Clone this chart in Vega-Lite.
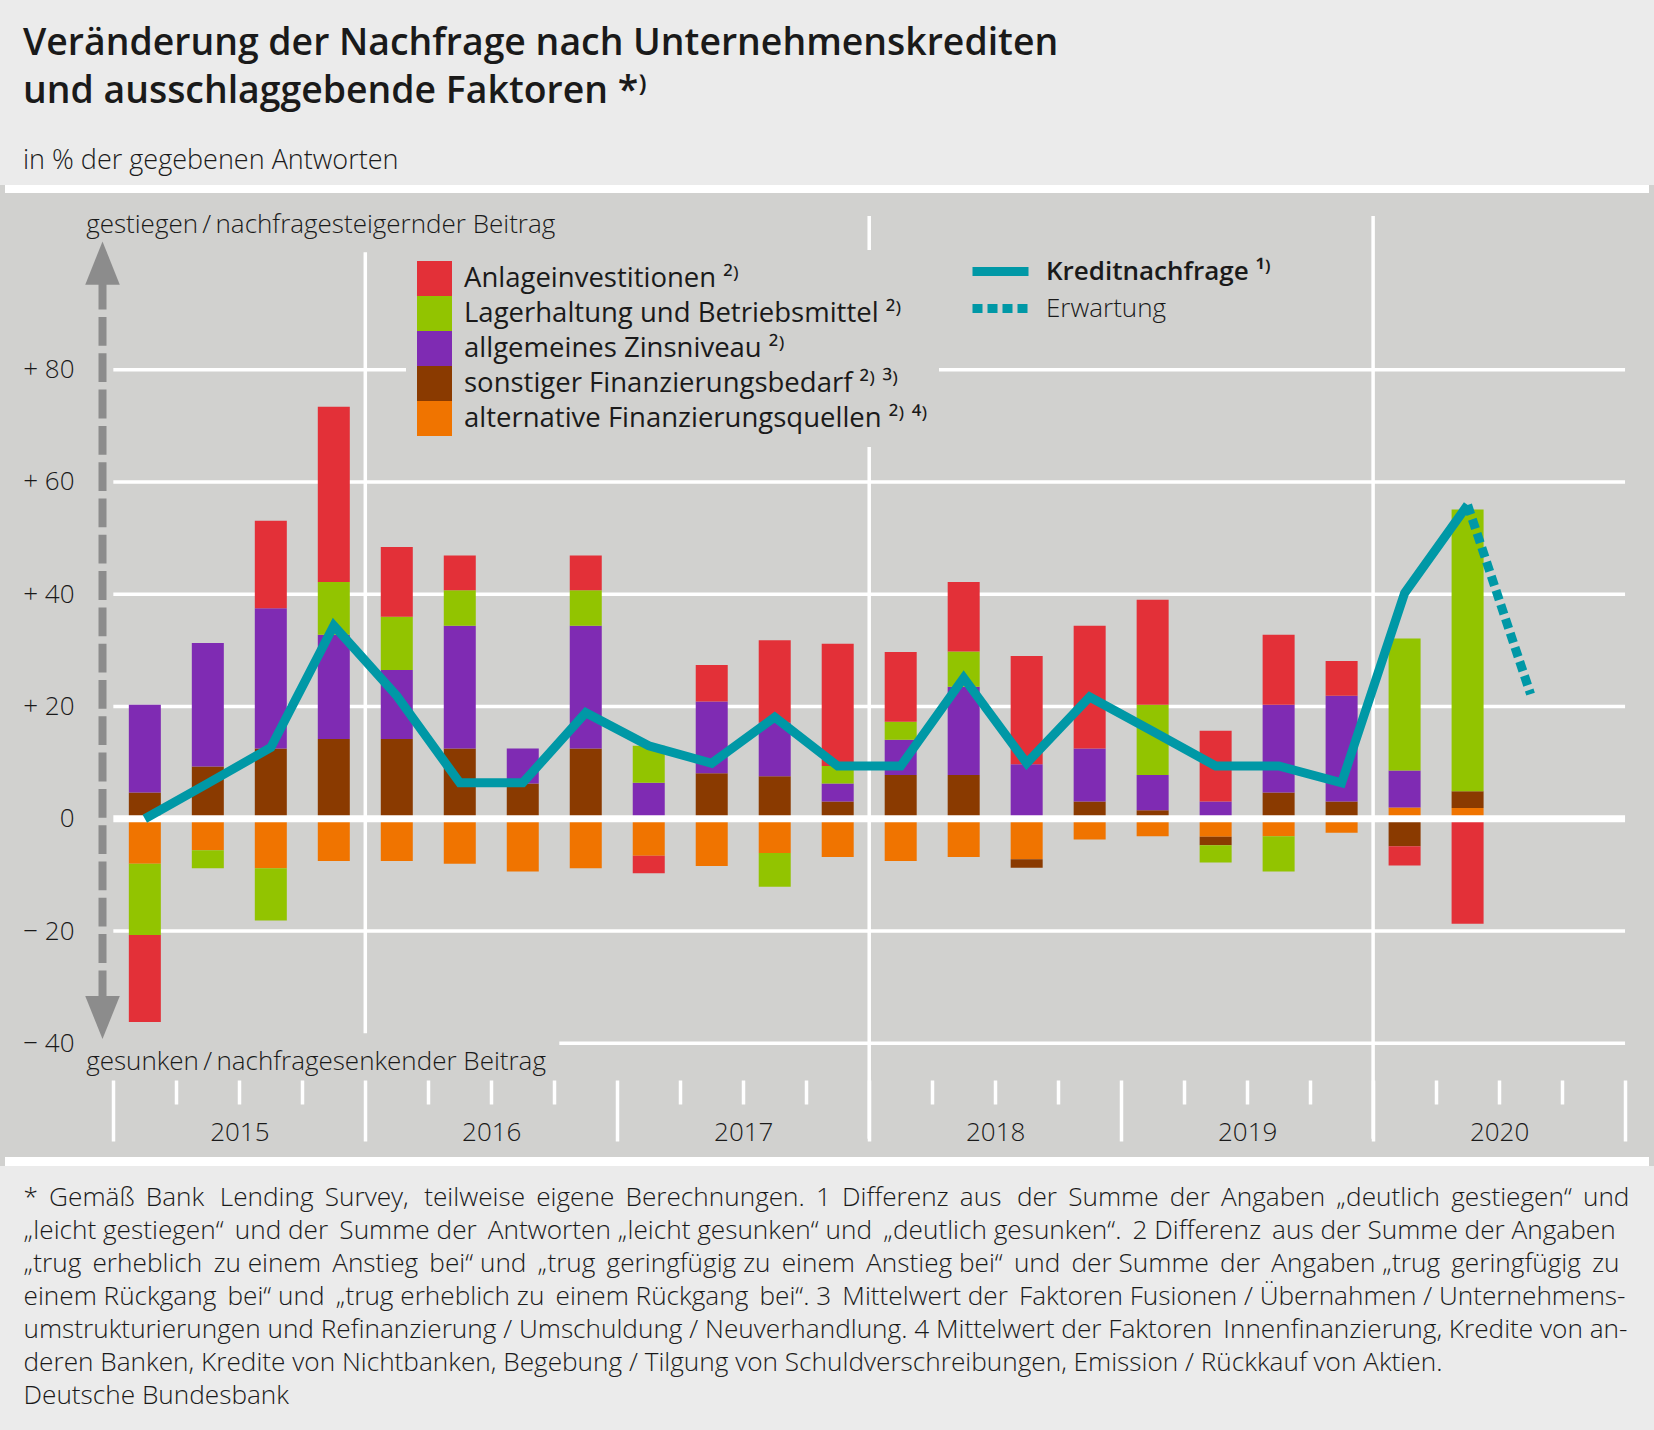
{
  "$schema": "https://vega.github.io/schema/vega-lite/v6.json",
  "width": 1654,
  "height": 981,
  "autosize": {"type": "none"},
  "padding": {"top": 185, "bottom": 264, "left": 0, "right": 0},
  "background": "#ebebeb",
  "config": {
    "view": {"fill": "#d1d1cf", "stroke": null},
    "font": "Open Sans"
  },
  "title": {
    "text": ["Veränderung der Nachfrage nach Unternehmenskrediten", "und ausschlaggebende Faktoren *⁾"],
    "subtitle": "in % der gegebenen Antworten",
    "anchor": "start",
    "frame": "group",
    "orient": "top",
    "dx": 23,
    "offset": 11,
    "font": "Open Sans",
    "fontSize": 37.4,
    "fontWeight": 600,
    "color": "#1a1a1a",
    "lineHeight": 47.6,
    "subtitleFont": "Open Sans",
    "subtitleFontSize": 27,
    "subtitleFontWeight": 300,
    "subtitleColor": "#1a1a1a",
    "subtitlePadding": 38
  },
  "datasets": {
    "factors": [
      {"quarter": "2015 Q1", "period": 2015.125, "factor": "alternative Finanzierungsquellen", "value": -8.0},
      {"quarter": "2015 Q1", "period": 2015.125, "factor": "sonstiger Finanzierungsbedarf", "value": 4.7},
      {"quarter": "2015 Q1", "period": 2015.125, "factor": "allgemeines Zinsniveau", "value": 15.6},
      {"quarter": "2015 Q1", "period": 2015.125, "factor": "Lagerhaltung und Betriebsmittel", "value": -12.7},
      {"quarter": "2015 Q1", "period": 2015.125, "factor": "Anlageinvestitionen", "value": -15.5},
      {"quarter": "2015 Q2", "period": 2015.375, "factor": "alternative Finanzierungsquellen", "value": -5.6},
      {"quarter": "2015 Q2", "period": 2015.375, "factor": "sonstiger Finanzierungsbedarf", "value": 9.3},
      {"quarter": "2015 Q2", "period": 2015.375, "factor": "allgemeines Zinsniveau", "value": 22.0},
      {"quarter": "2015 Q2", "period": 2015.375, "factor": "Lagerhaltung und Betriebsmittel", "value": -3.2},
      {"quarter": "2015 Q3", "period": 2015.625, "factor": "alternative Finanzierungsquellen", "value": -8.8},
      {"quarter": "2015 Q3", "period": 2015.625, "factor": "sonstiger Finanzierungsbedarf", "value": 12.5},
      {"quarter": "2015 Q3", "period": 2015.625, "factor": "allgemeines Zinsniveau", "value": 25.0},
      {"quarter": "2015 Q3", "period": 2015.625, "factor": "Lagerhaltung und Betriebsmittel", "value": -9.3},
      {"quarter": "2015 Q3", "period": 2015.625, "factor": "Anlageinvestitionen", "value": 15.6},
      {"quarter": "2015 Q4", "period": 2015.875, "factor": "alternative Finanzierungsquellen", "value": -7.5},
      {"quarter": "2015 Q4", "period": 2015.875, "factor": "sonstiger Finanzierungsbedarf", "value": 14.2},
      {"quarter": "2015 Q4", "period": 2015.875, "factor": "allgemeines Zinsniveau", "value": 18.6},
      {"quarter": "2015 Q4", "period": 2015.875, "factor": "Lagerhaltung und Betriebsmittel", "value": 9.4},
      {"quarter": "2015 Q4", "period": 2015.875, "factor": "Anlageinvestitionen", "value": 31.2},
      {"quarter": "2016 Q1", "period": 2016.125, "factor": "alternative Finanzierungsquellen", "value": -7.5},
      {"quarter": "2016 Q1", "period": 2016.125, "factor": "sonstiger Finanzierungsbedarf", "value": 14.2},
      {"quarter": "2016 Q1", "period": 2016.125, "factor": "allgemeines Zinsniveau", "value": 12.3},
      {"quarter": "2016 Q1", "period": 2016.125, "factor": "Lagerhaltung und Betriebsmittel", "value": 9.5},
      {"quarter": "2016 Q1", "period": 2016.125, "factor": "Anlageinvestitionen", "value": 12.4},
      {"quarter": "2016 Q2", "period": 2016.375, "factor": "alternative Finanzierungsquellen", "value": -8.0},
      {"quarter": "2016 Q2", "period": 2016.375, "factor": "sonstiger Finanzierungsbedarf", "value": 12.5},
      {"quarter": "2016 Q2", "period": 2016.375, "factor": "allgemeines Zinsniveau", "value": 21.9},
      {"quarter": "2016 Q2", "period": 2016.375, "factor": "Lagerhaltung und Betriebsmittel", "value": 6.3},
      {"quarter": "2016 Q2", "period": 2016.375, "factor": "Anlageinvestitionen", "value": 6.2},
      {"quarter": "2016 Q3", "period": 2016.625, "factor": "alternative Finanzierungsquellen", "value": -9.4},
      {"quarter": "2016 Q3", "period": 2016.625, "factor": "sonstiger Finanzierungsbedarf", "value": 6.3},
      {"quarter": "2016 Q3", "period": 2016.625, "factor": "allgemeines Zinsniveau", "value": 6.2},
      {"quarter": "2016 Q4", "period": 2016.875, "factor": "alternative Finanzierungsquellen", "value": -8.8},
      {"quarter": "2016 Q4", "period": 2016.875, "factor": "sonstiger Finanzierungsbedarf", "value": 12.5},
      {"quarter": "2016 Q4", "period": 2016.875, "factor": "allgemeines Zinsniveau", "value": 21.9},
      {"quarter": "2016 Q4", "period": 2016.875, "factor": "Lagerhaltung und Betriebsmittel", "value": 6.3},
      {"quarter": "2016 Q4", "period": 2016.875, "factor": "Anlageinvestitionen", "value": 6.2},
      {"quarter": "2017 Q1", "period": 2017.125, "factor": "alternative Finanzierungsquellen", "value": -6.6},
      {"quarter": "2017 Q1", "period": 2017.125, "factor": "allgemeines Zinsniveau", "value": 6.4},
      {"quarter": "2017 Q1", "period": 2017.125, "factor": "Lagerhaltung und Betriebsmittel", "value": 6.6},
      {"quarter": "2017 Q1", "period": 2017.125, "factor": "Anlageinvestitionen", "value": -3.1},
      {"quarter": "2017 Q2", "period": 2017.375, "factor": "alternative Finanzierungsquellen", "value": -8.4},
      {"quarter": "2017 Q2", "period": 2017.375, "factor": "sonstiger Finanzierungsbedarf", "value": 8.1},
      {"quarter": "2017 Q2", "period": 2017.375, "factor": "allgemeines Zinsniveau", "value": 12.8},
      {"quarter": "2017 Q2", "period": 2017.375, "factor": "Anlageinvestitionen", "value": 6.5},
      {"quarter": "2017 Q3", "period": 2017.625, "factor": "alternative Finanzierungsquellen", "value": -6.1},
      {"quarter": "2017 Q3", "period": 2017.625, "factor": "sonstiger Finanzierungsbedarf", "value": 7.6},
      {"quarter": "2017 Q3", "period": 2017.625, "factor": "allgemeines Zinsniveau", "value": 9.5},
      {"quarter": "2017 Q3", "period": 2017.625, "factor": "Lagerhaltung und Betriebsmittel", "value": -6.0},
      {"quarter": "2017 Q3", "period": 2017.625, "factor": "Anlageinvestitionen", "value": 14.7},
      {"quarter": "2017 Q4", "period": 2017.875, "factor": "alternative Finanzierungsquellen", "value": -6.8},
      {"quarter": "2017 Q4", "period": 2017.875, "factor": "sonstiger Finanzierungsbedarf", "value": 3.1},
      {"quarter": "2017 Q4", "period": 2017.875, "factor": "allgemeines Zinsniveau", "value": 3.2},
      {"quarter": "2017 Q4", "period": 2017.875, "factor": "Lagerhaltung und Betriebsmittel", "value": 3.1},
      {"quarter": "2017 Q4", "period": 2017.875, "factor": "Anlageinvestitionen", "value": 21.8},
      {"quarter": "2018 Q1", "period": 2018.125, "factor": "alternative Finanzierungsquellen", "value": -7.5},
      {"quarter": "2018 Q1", "period": 2018.125, "factor": "sonstiger Finanzierungsbedarf", "value": 7.8},
      {"quarter": "2018 Q1", "period": 2018.125, "factor": "allgemeines Zinsniveau", "value": 6.3},
      {"quarter": "2018 Q1", "period": 2018.125, "factor": "Lagerhaltung und Betriebsmittel", "value": 3.2},
      {"quarter": "2018 Q1", "period": 2018.125, "factor": "Anlageinvestitionen", "value": 12.4},
      {"quarter": "2018 Q2", "period": 2018.375, "factor": "alternative Finanzierungsquellen", "value": -6.8},
      {"quarter": "2018 Q2", "period": 2018.375, "factor": "sonstiger Finanzierungsbedarf", "value": 7.8},
      {"quarter": "2018 Q2", "period": 2018.375, "factor": "allgemeines Zinsniveau", "value": 15.7},
      {"quarter": "2018 Q2", "period": 2018.375, "factor": "Lagerhaltung und Betriebsmittel", "value": 6.3},
      {"quarter": "2018 Q2", "period": 2018.375, "factor": "Anlageinvestitionen", "value": 12.4},
      {"quarter": "2018 Q3", "period": 2018.625, "factor": "alternative Finanzierungsquellen", "value": -7.2},
      {"quarter": "2018 Q3", "period": 2018.625, "factor": "sonstiger Finanzierungsbedarf", "value": -1.5},
      {"quarter": "2018 Q3", "period": 2018.625, "factor": "allgemeines Zinsniveau", "value": 9.7},
      {"quarter": "2018 Q3", "period": 2018.625, "factor": "Anlageinvestitionen", "value": 19.3},
      {"quarter": "2018 Q4", "period": 2018.875, "factor": "alternative Finanzierungsquellen", "value": -3.7},
      {"quarter": "2018 Q4", "period": 2018.875, "factor": "sonstiger Finanzierungsbedarf", "value": 3.1},
      {"quarter": "2018 Q4", "period": 2018.875, "factor": "allgemeines Zinsniveau", "value": 9.4},
      {"quarter": "2018 Q4", "period": 2018.875, "factor": "Anlageinvestitionen", "value": 21.9},
      {"quarter": "2019 Q1", "period": 2019.125, "factor": "alternative Finanzierungsquellen", "value": -3.1},
      {"quarter": "2019 Q1", "period": 2019.125, "factor": "sonstiger Finanzierungsbedarf", "value": 1.5},
      {"quarter": "2019 Q1", "period": 2019.125, "factor": "allgemeines Zinsniveau", "value": 6.3},
      {"quarter": "2019 Q1", "period": 2019.125, "factor": "Lagerhaltung und Betriebsmittel", "value": 12.5},
      {"quarter": "2019 Q1", "period": 2019.125, "factor": "Anlageinvestitionen", "value": 18.7},
      {"quarter": "2019 Q2", "period": 2019.375, "factor": "alternative Finanzierungsquellen", "value": -3.2},
      {"quarter": "2019 Q2", "period": 2019.375, "factor": "sonstiger Finanzierungsbedarf", "value": -1.5},
      {"quarter": "2019 Q2", "period": 2019.375, "factor": "allgemeines Zinsniveau", "value": 3.1},
      {"quarter": "2019 Q2", "period": 2019.375, "factor": "Lagerhaltung und Betriebsmittel", "value": -3.1},
      {"quarter": "2019 Q2", "period": 2019.375, "factor": "Anlageinvestitionen", "value": 12.6},
      {"quarter": "2019 Q3", "period": 2019.625, "factor": "alternative Finanzierungsquellen", "value": -3.1},
      {"quarter": "2019 Q3", "period": 2019.625, "factor": "sonstiger Finanzierungsbedarf", "value": 4.7},
      {"quarter": "2019 Q3", "period": 2019.625, "factor": "allgemeines Zinsniveau", "value": 15.6},
      {"quarter": "2019 Q3", "period": 2019.625, "factor": "Lagerhaltung und Betriebsmittel", "value": -6.3},
      {"quarter": "2019 Q3", "period": 2019.625, "factor": "Anlageinvestitionen", "value": 12.5},
      {"quarter": "2019 Q4", "period": 2019.875, "factor": "alternative Finanzierungsquellen", "value": -2.5},
      {"quarter": "2019 Q4", "period": 2019.875, "factor": "sonstiger Finanzierungsbedarf", "value": 3.1},
      {"quarter": "2019 Q4", "period": 2019.875, "factor": "allgemeines Zinsniveau", "value": 18.8},
      {"quarter": "2019 Q4", "period": 2019.875, "factor": "Anlageinvestitionen", "value": 6.2},
      {"quarter": "2020 Q1", "period": 2020.125, "factor": "alternative Finanzierungsquellen", "value": 2.0},
      {"quarter": "2020 Q1", "period": 2020.125, "factor": "sonstiger Finanzierungsbedarf", "value": -4.9},
      {"quarter": "2020 Q1", "period": 2020.125, "factor": "allgemeines Zinsniveau", "value": 6.6},
      {"quarter": "2020 Q1", "period": 2020.125, "factor": "Lagerhaltung und Betriebsmittel", "value": 23.5},
      {"quarter": "2020 Q1", "period": 2020.125, "factor": "Anlageinvestitionen", "value": -3.4},
      {"quarter": "2020 Q2", "period": 2020.375, "factor": "alternative Finanzierungsquellen", "value": 1.9},
      {"quarter": "2020 Q2", "period": 2020.375, "factor": "sonstiger Finanzierungsbedarf", "value": 3.0},
      {"quarter": "2020 Q2", "period": 2020.375, "factor": "Lagerhaltung und Betriebsmittel", "value": 50.2},
      {"quarter": "2020 Q2", "period": 2020.375, "factor": "Anlageinvestitionen", "value": -18.7}
    ],
    "factor_order": [
      {"factor": "alternative Finanzierungsquellen", "stack_rank": 1},
      {"factor": "sonstiger Finanzierungsbedarf", "stack_rank": 2},
      {"factor": "allgemeines Zinsniveau", "stack_rank": 3},
      {"factor": "Lagerhaltung und Betriebsmittel", "stack_rank": 4},
      {"factor": "Anlageinvestitionen", "stack_rank": 5}
    ],
    "demand": [
      {"quarter": "2015 Q1", "period": 2015.125, "series": "Kreditnachfrage", "value": 0},
      {"quarter": "2015 Q2", "period": 2015.375, "series": "Kreditnachfrage", "value": 6.3},
      {"quarter": "2015 Q3", "period": 2015.625, "series": "Kreditnachfrage", "value": 12.7},
      {"quarter": "2015 Q4", "period": 2015.875, "series": "Kreditnachfrage", "value": 34.4},
      {"quarter": "2016 Q1", "period": 2016.125, "series": "Kreditnachfrage", "value": 21.9},
      {"quarter": "2016 Q2", "period": 2016.375, "series": "Kreditnachfrage", "value": 6.4},
      {"quarter": "2016 Q3", "period": 2016.625, "series": "Kreditnachfrage", "value": 6.4},
      {"quarter": "2016 Q4", "period": 2016.875, "series": "Kreditnachfrage", "value": 18.9},
      {"quarter": "2017 Q1", "period": 2017.125, "series": "Kreditnachfrage", "value": 13.0},
      {"quarter": "2017 Q2", "period": 2017.375, "series": "Kreditnachfrage", "value": 9.9},
      {"quarter": "2017 Q3", "period": 2017.625, "series": "Kreditnachfrage", "value": 18.1},
      {"quarter": "2017 Q4", "period": 2017.875, "series": "Kreditnachfrage", "value": 9.4},
      {"quarter": "2018 Q1", "period": 2018.125, "series": "Kreditnachfrage", "value": 9.4},
      {"quarter": "2018 Q2", "period": 2018.375, "series": "Kreditnachfrage", "value": 25.1},
      {"quarter": "2018 Q3", "period": 2018.625, "series": "Kreditnachfrage", "value": 9.9},
      {"quarter": "2018 Q4", "period": 2018.875, "series": "Kreditnachfrage", "value": 21.7},
      {"quarter": "2019 Q1", "period": 2019.125, "series": "Kreditnachfrage", "value": 15.6},
      {"quarter": "2019 Q2", "period": 2019.375, "series": "Kreditnachfrage", "value": 9.4},
      {"quarter": "2019 Q3", "period": 2019.625, "series": "Kreditnachfrage", "value": 9.4},
      {"quarter": "2019 Q4", "period": 2019.875, "series": "Kreditnachfrage", "value": 6.4},
      {"quarter": "2020 Q1", "period": 2020.125, "series": "Kreditnachfrage", "value": 40.2},
      {"quarter": "2020 Q2", "period": 2020.375, "series": "Kreditnachfrage", "value": 55.9}
    ],
    "expectation": [
      {"quarter": "2020 Q2", "period": 2020.375, "series": "Erwartung", "value": 55.9},
      {"quarter": "2020 Q3", "period": 2020.625, "series": "Erwartung", "value": 22.2}
    ],
    "grid": [{"value": 80}, {"value": 60}, {"value": 40}, {"value": 20}, {"value": -20}],
    "yearlines": [{"period": 2018}, {"period": 2020}],
    "single": [{"item": "decor"}]
  },
  "layer": [
    {
      "data": {"name": "single"},
      "mark": {"type": "rule", "color": "#ffffff", "strokeWidth": 8},
      "encoding": {
        "x": {"datum": 2014.57, "type": "quantitative", "scale": {"domain": [2014.57, 2021.095], "nice": false, "zero": false}},
        "x2": {"datum": 2021.095},
        "y": {"datum": 112.19, "type": "quantitative", "scale": {"domain": [-61.85, 112.9], "nice": false, "zero": false}}
      }
    },
    {
      "data": {"name": "single"},
      "mark": {"type": "rule", "color": "#ffffff", "strokeWidth": 9},
      "encoding": {
        "x": {"datum": 2014.57, "type": "quantitative"},
        "x2": {"datum": 2021.095},
        "y": {"datum": -61.04, "type": "quantitative"}
      }
    },
    {
      "data": {"name": "grid"},
      "mark": {"type": "rule", "color": "#ffffff", "strokeWidth": 3.5},
      "encoding": {
        "x": {"datum": 2015, "type": "quantitative"},
        "x2": {"datum": 2021},
        "y": {"field": "value", "type": "quantitative"}
      }
    },
    {
      "data": {"name": "single"},
      "mark": {"type": "rule", "color": "#ffffff", "strokeWidth": 3.5},
      "encoding": {
        "x": {"datum": 2016.77, "type": "quantitative"},
        "x2": {"datum": 2021},
        "y": {"datum": -40, "type": "quantitative"}
      }
    },
    {
      "data": {"name": "single"},
      "mark": {"type": "rule", "color": "#ffffff", "strokeWidth": 3.5},
      "encoding": {
        "x": {"datum": 2016, "type": "quantitative"},
        "y": {"datum": 100.9, "type": "quantitative"},
        "y2": {"datum": -38.2}
      }
    },
    {
      "data": {"name": "yearlines"},
      "mark": {"type": "rule", "color": "#ffffff", "strokeWidth": 3.5},
      "encoding": {
        "x": {"field": "period", "type": "quantitative"},
        "y": {"datum": 107.4, "type": "quantitative"},
        "y2": {"datum": -57.0}
      }
    },
    {
      "data": {"name": "factors"},
      "transform": [
        {"lookup": "factor", "from": {"data": {"name": "factor_order"}, "key": "factor", "fields": ["stack_rank"]}}
      ],
      "mark": {"type": "bar", "size": 32},
      "encoding": {
        "x": {
          "field": "period",
          "type": "quantitative",
          "scale": {"domain": [2014.57, 2021.095], "nice": false, "zero": false},
          "axis": {
            "orient": "bottom",
            "offset": -86,
            "values": [2015, 2015.25, 2015.5, 2015.75, 2016, 2016.25, 2016.5, 2016.75, 2017, 2017.25, 2017.5, 2017.75, 2018, 2018.25, 2018.5, 2018.75, 2019, 2019.25, 2019.5, 2019.75, 2020, 2020.25, 2020.5, 2020.75, 2021],
            "domain": false,
            "grid": false,
            "ticks": true,
            "tickColor": "#ffffff",
            "tickWidth": 3.5,
            "tickSize": {"condition": {"test": "datum.value % 1 === 0", "value": 61}, "value": 24},
            "labelExpr": "datum.value % 1 === 0.5 ? '' + floor(datum.value) : ''",
            "labelPadding": 36,
            "labelBaseline": "alphabetic",
            "labelFont": "Open Sans",
            "labelFontSize": 26,
            "labelFontWeight": 300,
            "labelColor": "#1a1a1a",
            "labelFlush": false,
            "labelOverlap": false,
            "labelBound": false,
            "title": [
              "* \u2009Gemäß \u2009Bank \u2009\u2009Lending \u2009Survey, \u2009\u2009teilweise \u2009eigene \u2009Berechnungen. \u20091 \u2009Differenz \u2009aus \u2009\u2009der \u2009Summe \u2009der \u2009Angaben \u2009„deutlich \u2009gestiegen“ \u2009und",
              "„leicht gestiegen“ \u2009und der \u2009Summe der \u2009Antworten „leicht gesunken“ und \u2009„deutlich gesunken“. \u20092 Differenz \u2009aus der Summe der Angaben",
              "„trug \u2009erheblich \u2009zu einem \u2009Anstieg \u2009bei“ und \u2009„trug \u2009geringfügig zu \u2009einem \u2009Anstieg bei“ \u2009und \u2009der Summe \u2009der \u2009Angaben „trug \u2009geringfügig \u2009zu",
              "einem Rückgang \u2009bei“ und \u2009„trug erheblich zu \u2009einem Rückgang \u2009bei“. 3 \u2009Mittelwert der \u2009Faktoren Fusionen / Übernahmen / Unternehmens-",
              "umstrukturierungen und Refinanzierung / Umschuldung / Neuverhandlung. 4 Mittelwert der Faktoren \u2009Innenfinanzierung, Kredite von an-",
              "deren Banken, Kredite von Nichtbanken, Begebung / Tilgung von Schuldverschreibungen, Emission / Rückkauf von Aktien.",
              "Deutsche Bundesbank"
            ],
            "titleX": 23,
            "titleY": 104,
            "titleAlign": "left",
            "titleAnchor": "start",
            "titleBaseline": "top",
            "titleFont": "Open Sans",
            "titleFontSize": 26.2,
            "titleFontWeight": 300,
            "titleColor": "#1a1a1a",
            "titleLineHeight": 33,
            "titleLimit": 3000,
            "titlePadding": 0
          }
        },
        "y": {
          "field": "value",
          "type": "quantitative",
          "stack": "zero",
          "scale": {"domain": [-61.85, 112.9], "nice": false, "zero": false},
          "axis": {
            "orient": "left",
            "offset": -109,
            "values": [-40, -20, 0, 20, 40, 60, 80],
            "domain": false,
            "grid": false,
            "ticks": false,
            "tickSize": 0,
            "labelPadding": 35,
            "labelAlign": "right",
            "labelBaseline": "middle",
            "labelFont": "Open Sans",
            "labelFontSize": 26,
            "labelFontWeight": 300,
            "labelColor": "#1a1a1a",
            "labelExpr": "datum.value > 0 ? '+ ' + datum.value : (datum.value < 0 ? '− ' + abs(datum.value) : '0')",
            "labelFlush": false,
            "labelOverlap": false,
            "labelBound": false,
            "title": null
          }
        },
        "color": {
          "field": "factor",
          "type": "nominal",
          "scale": {
            "domain": ["Anlageinvestitionen", "Lagerhaltung und Betriebsmittel", "allgemeines Zinsniveau", "sonstiger Finanzierungsbedarf", "alternative Finanzierungsquellen"],
            "range": ["#e33038", "#92c400", "#7f2bb3", "#8a3a00", "#f07400"]
          },
          "legend": {
            "title": null,
            "orient": "none",
            "legendX": 406,
            "legendY": 65,
            "padding": 11,
            "fillColor": "#d1d1cf",
            "strokeColor": null,
            "symbolType": "square",
            "symbolSize": 1225,
            "symbolStrokeWidth": 0,
            "symbolOpacity": 1,
            "rowPadding": 0,
            "labelOffset": 12,
            "labelFont": "Open Sans",
            "labelFontSize": 27.5,
            "labelFontWeight": 400,
            "labelColor": "#1a1a1a",
            "labelLimit": 900,
            "labelExpr": "datum.value === 'sonstiger Finanzierungsbedarf' ? datum.value + ' ²⁾ ³⁾' : (datum.value === 'alternative Finanzierungsquellen' ? datum.value + ' ²⁾ ⁴⁾' : datum.value + ' ²⁾')"
          }
        },
        "order": {"field": "stack_rank", "type": "quantitative"}
      }
    },
    {
      "data": {"name": "single"},
      "mark": {"type": "rule", "color": "#ffffff", "strokeWidth": 7},
      "encoding": {
        "x": {"datum": 2015, "type": "quantitative"},
        "x2": {"datum": 2021},
        "y": {"datum": 0, "type": "quantitative"}
      }
    },
    {
      "data": {"name": "single"},
      "mark": {"type": "rule", "color": "#8c8c8c", "strokeWidth": 8, "strokeDash": [28.8, 7.5]},
      "encoding": {
        "x": {"datum": 2014.957, "type": "quantitative"},
        "y": {"datum": 95.85, "type": "quantitative"},
        "y2": {"datum": -32.2}
      }
    },
    {
      "data": {"name": "single"},
      "mark": {"type": "point", "shape": "M0,-1L-0.8,1L0.8,1Z", "filled": true, "color": "#8c8c8c", "opacity": 1, "size": 1866, "strokeWidth": 0},
      "encoding": {
        "x": {"datum": 2014.957, "type": "quantitative"},
        "y": {"datum": 99.0, "type": "quantitative"}
      }
    },
    {
      "data": {"name": "single"},
      "mark": {"type": "point", "shape": "M0,1L-0.8,-1L0.8,-1Z", "filled": true, "color": "#8c8c8c", "opacity": 1, "size": 1866, "strokeWidth": 0},
      "encoding": {
        "x": {"datum": 2014.957, "type": "quantitative"},
        "y": {"datum": -35.4, "type": "quantitative"}
      }
    },
    {
      "data": {"name": "single"},
      "mark": {"type": "text", "align": "left", "baseline": "alphabetic", "font": "Open Sans", "fontSize": 26, "fontWeight": 300, "color": "#1a1a1a"},
      "encoding": {
        "x": {"datum": 2014.892, "type": "quantitative"},
        "y": {"datum": 104.3, "type": "quantitative"},
        "text": {"value": "gestiegen\u2009/\u2009nachfragesteigernder Beitrag"}
      }
    },
    {
      "data": {"name": "single"},
      "mark": {"type": "text", "align": "left", "baseline": "alphabetic", "font": "Open Sans", "fontSize": 26, "fontWeight": 300, "color": "#1a1a1a"},
      "encoding": {
        "x": {"datum": 2014.892, "type": "quantitative"},
        "y": {"datum": -44.7, "type": "quantitative"},
        "text": {"value": "gesunken\u2009/\u2009nachfragesenkender Beitrag"}
      }
    },
    {
      "data": {"name": "demand"},
      "mark": {"type": "line", "strokeWidth": 9, "strokeJoin": "miter", "strokeCap": "butt"},
      "encoding": {
        "x": {"field": "period", "type": "quantitative"},
        "y": {"field": "value", "type": "quantitative"},
        "stroke": {
          "field": "series",
          "type": "nominal",
          "scale": {"domain": ["Kreditnachfrage"], "range": ["#0098a6"]},
          "legend": {
            "title": null,
            "orient": "none",
            "legendX": 968,
            "legendY": 54,
            "padding": 0,
            "symbolType": "stroke",
            "symbolSize": 3136,
            "symbolStrokeWidth": 9,
            "labelOffset": 13,
            "labelFont": "Open Sans",
            "labelFontSize": 26,
            "labelFontWeight": 600,
            "labelColor": "#1a1a1a",
            "labelLimit": 600,
            "labelExpr": "'Kreditnachfrage ¹⁾'"
          }
        }
      }
    },
    {
      "data": {"name": "expectation"},
      "mark": {"type": "line", "color": "#0098a6", "strokeWidth": 9, "strokeCap": "butt"},
      "encoding": {
        "x": {"field": "period", "type": "quantitative"},
        "y": {"field": "value", "type": "quantitative"},
        "strokeDash": {
          "field": "series",
          "type": "nominal",
          "scale": {"domain": ["Erwartung"], "range": [[10, 5]]},
          "legend": {
            "title": null,
            "orient": "none",
            "legendX": 968,
            "legendY": 91,
            "padding": 0,
            "symbolType": "stroke",
            "symbolSize": 3136,
            "symbolStrokeWidth": 9,
            "symbolStrokeColor": "#0098a6",
            "labelOffset": 13,
            "labelFont": "Open Sans",
            "labelFontSize": 26,
            "labelFontWeight": 300,
            "labelColor": "#1a1a1a",
            "labelLimit": 600
          }
        }
      }
    }
  ]
}
